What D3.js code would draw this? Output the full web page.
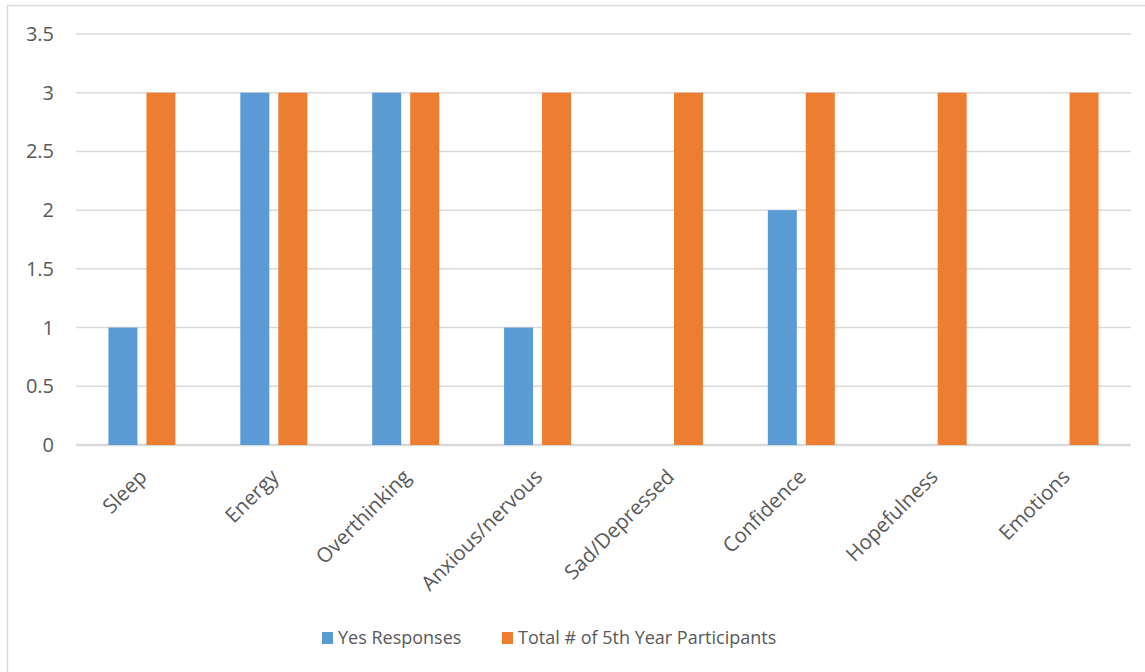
<!DOCTYPE html>
<html>
<head>
<meta charset="utf-8">
<script src="https://cdn.jsdelivr.net/npm/d3@7"></script>
<style>
  body { margin: 0; background: #fff; }
  svg { display: block; }
  text { font-family: "Open Sans", sans-serif; fill: #595959; }
</style>
</head>
<body>
<svg id="chart"></svg>
<script>
const categories = ['Sleep', 'Energy', 'Overthinking', 'Anxious/nervous', 'Sad/Depressed', 'Confidence', 'Hopefulness', 'Emotions'];
const seriesNames = ['Yes Responses', 'Total # of 5th Year Participants'];
const yesResponses = [1, 3, 3, 1, 0, 2, 0, 0];
const totalParticipants = [3, 3, 3, 3, 3, 3, 3, 3];
const yTicks = [0, 0.5, 1, 1.5, 2, 2.5, 3, 3.5];
const colors = ['#5B9BD5', '#ED7D31'];

const width = 1145, height = 672;
const marginLeft = 76, marginRight = 14, marginTop = 34, marginBottom = 227;

const svg = d3.select('#chart')
  .attr('width', width)
  .attr('height', height)
  .attr('viewBox', [0, 0, width, height]);

// chart border
svg.append('rect')
  .attr('x', 7.5).attr('y', 5.5)
  .attr('width', width + 10).attr('height', height + 10)
  .attr('fill', 'none')
  .attr('stroke', '#d9d9d9')
  .attr('stroke-width', 1.5);

const y = d3.scaleLinear()
  .domain([0, 3.5])
  .range([height - marginBottom, marginTop]);

const x = d3.scaleBand()
  .domain(categories)
  .range([marginLeft, width - marginRight]);

const bw = 29, gap = 9;
const x1 = d3.scaleOrdinal()
  .domain([0, 1])
  .range([-(bw + gap / 2), gap / 2]);

// gridlines
svg.append('g')
  .selectAll('line')
  .data(yTicks)
  .join('line')
  .attr('x1', marginLeft)
  .attr('x2', width - marginRight)
  .attr('y1', d => y(d))
  .attr('y2', d => y(d))
  .attr('stroke', '#d9d9d9')
  .attr('stroke-width', d => d === 0 ? 2.5 : 1.5);

// y labels
svg.append('g')
  .selectAll('text')
  .data(yTicks)
  .join('text')
  .attr('x', 54)
  .attr('y', d => y(d))
  .attr('dy', '0.35em')
  .attr('text-anchor', 'end')
  .style('font-size', '20px')
  .text(d => d);

// bars
const series = [yesResponses, totalParticipants];
series.forEach((vals, s) => {
  svg.append('g')
    .selectAll('rect')
    .data(vals)
    .join('rect')
    .attr('x', (d, i) => x(categories[i]) + x.bandwidth() / 2 + x1(s))
    .attr('width', bw)
    .attr('y', d => y(d))
    .attr('height', d => y(0) - y(d))
    .attr('fill', colors[s]);
});

// x labels
svg.append('g')
  .selectAll('text')
  .data(categories)
  .join('text')
  .attr('transform', d => `translate(${x(d) + x.bandwidth() / 2 + 1}, ${y(0) + 28}) rotate(-45)`)
  .attr('text-anchor', 'end')
  .attr('dy', '0.35em')
  .style('font-size', '20.5px')
  .text(d => d);

// legend
const legendX = [322, 502];
const legend = svg.append('g');
seriesNames.forEach((name, s) => {
  legend.append('rect')
    .attr('x', legendX[s]).attr('y', 632)
    .attr('width', 11).attr('height', 12)
    .attr('fill', colors[s]);
  legend.append('text')
    .attr('x', legendX[s] + 16).attr('y', 638)
    .attr('dy', '0.35em')
    .style('font-size', '18px')
    .text(name);
});
</script>
</body>
</html>
